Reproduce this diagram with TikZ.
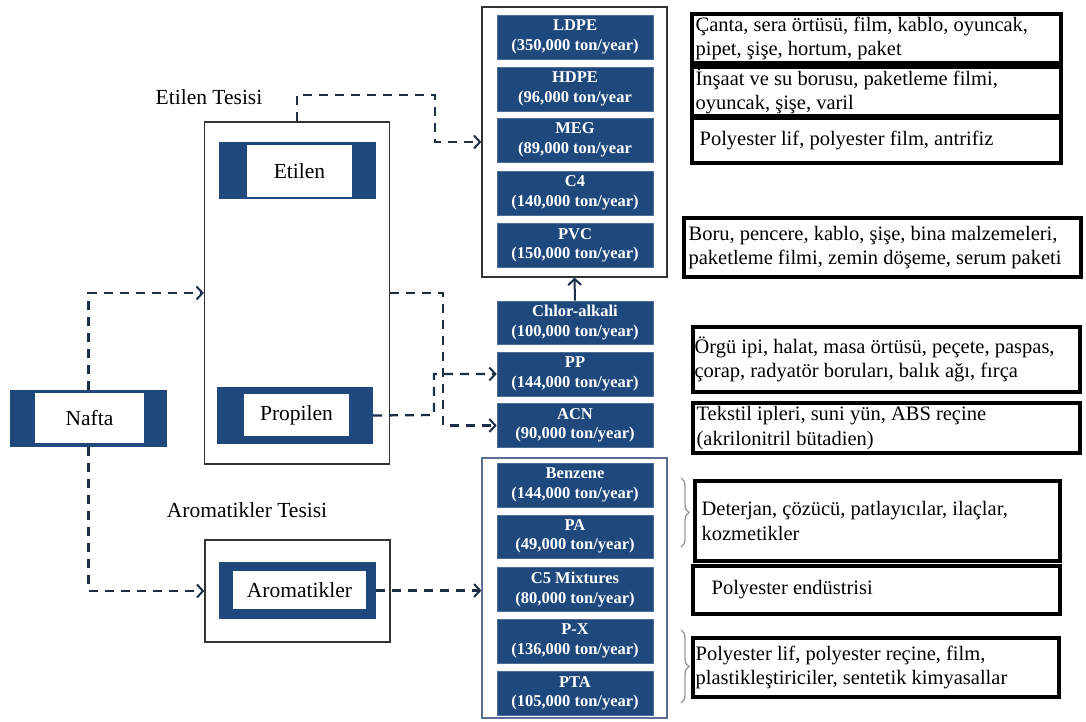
\documentclass[tikz,border=0pt]{standalone}
\usepackage{fontspec}
\setmainfont{Liberation Serif}
\usetikzlibrary{arrows.meta,decorations.pathreplacing}
\definecolor{pblue}{RGB}{31,73,125}
\definecolor{navy}{RGB}{30,45,70}
\definecolor{braceg}{RGB}{150,150,150}
\definecolor{frameb}{RGB}{90,110,150}
\begin{document}
\begin{tikzpicture}[x=1pt,y=-1pt,
  prod/.style={fill=pblue, draw=pblue!80!white, line width=0.6pt, text=white, font=\fontsize{16.5}{19.5}\selectfont\bfseries,
    align=center, minimum width=156pt, minimum height=44pt, inner sep=0pt},
  plant/.style={draw=black!80, line width=1.3pt, minimum width=185pt, inner sep=0pt},
  bluebox/.style={fill=pblue, minimum width=157pt, minimum height=57pt, inner sep=0pt},
  whitebox/.style={fill=white, font=\fontsize{21.5}{24}\selectfont, inner sep=0pt},
  ubox/.style={draw=black, line width=3.2pt, inner sep=0pt},
  utext/.style={font=\fontsize{20.5}{24.5}\selectfont, align=left, inner sep=0pt, anchor=west},
  flow/.style={draw=navy, line width=2.3pt, dash pattern=on 9pt off 7pt, -{Straight Barb[length=6pt,width=13pt,line width=2pt]}},
  lbl/.style={font=\fontsize{21.5}{24}\selectfont, inner sep=0pt},
  brc/.style={draw=braceg, line width=1.3pt, decorate, decoration={brace, amplitude=8pt}}
]
\useasboundingbox (0,0) rectangle (1086,722);

% plant frames
\node[plant, minimum height=342pt] (etb) at (297,293) {};
\node[plant, minimum height=102pt] (arb) at (297.5,591) {};
\node[plant, minimum height=270pt] (topbox) at (574.5,142) {};
\node[draw=frameb, line width=1.2pt, minimum width=185pt, minimum height=260pt, inner sep=0pt] (botbox) at (574.5,588) {};

% labels
\node[lbl] (etlbl) at (209,97) {Etilen Tesisi};
\node[lbl] (arlbl) at (247,510) {Aromatikler Tesisi};

% input / intermediate boxes
\node[bluebox] (nafta) at (88.5,418.5) {};
\node[whitebox, minimum width=109pt, minimum height=50pt] (nafta-t) at (89.5,418) {Nafta};
\node[bluebox] (etilen) at (297.5,170.5) {};
\node[whitebox, minimum width=105pt, minimum height=52pt] (etilen-t) at (299.5,171) {Etilen};
\node[bluebox, minimum width=156pt] (prop) at (295,415.5) {};
\node[whitebox, minimum width=105pt, minimum height=42pt] (prop-t) at (296.5,415) {Propilen};
\node[bluebox] (arom) at (297.5,590.5) {};
\node[whitebox, minimum width=133pt, minimum height=38pt] (arom-t) at (299.5,590) {Aromatikler};

% products
\node[prod] (ldpe) at (575,37) {LDPE\\(350,000 ton/year)};
\node[prod] (hdpe) at (575,89) {HDPE\\(96,000 ton/year};
\node[prod] (meg) at (575,140) {MEG\\(89,000 ton/year};
\node[prod] (c4) at (575,193) {C4\\(140,000 ton/year)};
\node[prod] (pvc) at (575,245.5) {PVC\\(150,000 ton/year)};
\node[prod, minimum height=43pt] (chlor) at (575,322.5) {Chlor-alkali\\(100,000 ton/year)};
\node[prod] (pp) at (575,374) {PP\\(144,000 ton/year)};
\node[prod] (acn) at (575,425.5) {ACN\\(90,000 ton/year)};
\node[prod] (benz) at (575,485) {Benzene\\(144,000 ton/year)};
\node[prod, minimum height=43pt] (pa) at (575,536.5) {PA\\(49,000 ton/year)};
\node[prod] (c5) at (575,589.5) {C5 Mixtures\\(80,000 ton/year)};
\node[prod] (px) at (575,641) {P-X\\(136,000 ton/year)};
\node[prod] (pta) at (575,693.5) {PTA\\(105,000 ton/year)};

% uses
\node[ubox, minimum width=369pt, minimum height=49pt] (u1) at (876.5,38.5) {};
\node[utext] (u1-t) at ([xshift=5pt]u1.west) {Çanta, sera örtüsü, film, kablo, oyuncak,\\pipet, şişe, hortum, paket};
\node[ubox, minimum width=369pt, minimum height=49pt] (u2) at (876.5,91.5) {};
\node[utext] (u2-t) at ([xshift=5pt]u2.west) {İnşaat ve su borusu, paketleme filmi,\\oyuncak, şişe, varil};
\node[ubox, minimum width=369pt, minimum height=45pt] (u3) at (876.5,140.5) {};
\node[utext] (u3-t) at ([xshift=9pt]u3.west) {Polyester lif, polyester film, antrifiz};
\node[ubox, minimum width=397pt, minimum height=59pt] (u4) at (882.5,247.5) {};
\node[utext] (u4-t) at ([xshift=6pt]u4.west) {Boru, pencere, kablo, şişe, bina malzemeleri,\\paketleme filmi, zemin döşeme, serum paketi};
\node[ubox, minimum width=387pt, minimum height=65pt] (u5) at (886.5,359.5) {};
\node[utext] (u5-t) at ([xshift=3pt]u5.west) {Örgü ipi, halat, masa örtüsü, peçete, paspas,\\çorap, radyatör boruları, balık ağı, fırça};
\node[ubox, minimum width=387pt, minimum height=50pt] (u6) at (886.5,428) {};
\node[utext] (u6-t) at ([xshift=5pt]u6.west) {Tekstil ipleri, suni yün, ABS reçine\\(akrilonitril bütadien)};
\node[ubox, minimum width=365pt, minimum height=80pt] (u7) at (877.5,521) {};
\node[utext] (u7-t) at ([xshift=8pt]u7.west) {Deterjan, çözücü, patlayıcılar, ilaçlar,\\kozmetikler};
\node[ubox, minimum width=367pt, minimum height=48pt] (u8) at (876.5,590) {};
\node[utext] (u8-t) at ([xshift=20pt]u8.west) {Polyester endüstrisi};
\node[ubox, minimum width=366pt, minimum height=59pt] (u9) at (876,667.5) {};
\node[utext] (u9-t) at ([xshift=4pt]u9.west) {Polyester lif, polyester reçine, film,\\plastikleştiriciler, sentetik kimyasallar};

% braces
\coordinate (b1a) at (681,478);
\coordinate (b1b) at (681,547);
\coordinate (b2a) at (681,630);
\coordinate (b2b) at (681,703);
\draw[brc] (b1a) -- (b1b);
\draw[brc] (b2a) -- (b2b);

% connectors
\coordinate (c1) at (435,95);
\coordinate (c2) at (443,293);
\coordinate (c3) at (434,415);
\draw[flow] (nafta.north) |- (etb.west);
\draw[flow] (nafta.south) |- (arb.west);
\draw[flow] (etb.north) |- (c1) |- (topbox.west);
\draw[flow] (etb.east) -- (c2) |- (acn.west);
\draw[flow] (prop.east) -- (c3) |- (pp.west);
\draw[flow] (arom.east) -- (arom.east -| botbox.west);
\draw[draw=navy, line width=2pt, -{Straight Barb[length=6pt,width=13pt,line width=2pt]}] (chlor.north) -- (topbox.south);
\end{tikzpicture}
\end{document}
